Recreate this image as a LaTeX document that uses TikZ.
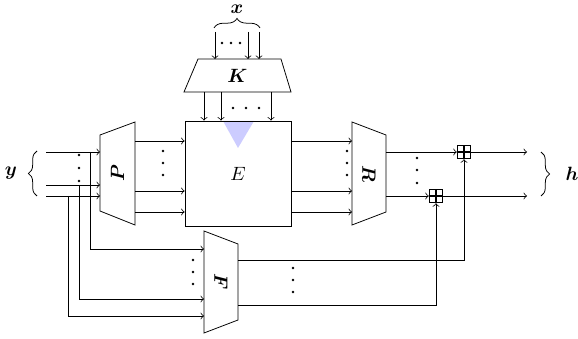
\documentclass[tikz,border=0pt]{standalone}
\usepackage{amsmath,bm}
\usetikzlibrary{decorations.pathreplacing}
\begin{document}
\begin{tikzpicture}[x=0.52pt,y=-0.52pt,
  wire/.style={->},
  blk/.style={draw},
  dotmark/.style={fill, circle, inner sep=0pt, minimum size=1.5pt},
  bracedec/.style={decorate, decoration={brace, amplitude=#1}},
  adder/.style={draw, line width=0.7pt, minimum size=6.8pt, inner sep=0pt,
    path picture={\draw[line width=0.7pt]
      (path picture bounding box.north) -- (path picture bounding box.south)
      (path picture bounding box.west) -- (path picture bounding box.east);}}]
\useasboundingbox (0,0) rectangle (578,339);

% ---------- block corners ----------
\coordinate (P-lt) at (100,135); \coordinate (P-lb) at (100,211);
\coordinate (P-rt) at (135,122); \coordinate (P-rb) at (135,225);
\coordinate (R-lt) at (352,122); \coordinate (R-lb) at (352,225);
\coordinate (R-rt) at (386,135); \coordinate (R-rb) at (386,212);
\coordinate (F-lt) at (204,231); \coordinate (F-lb) at (204,333);
\coordinate (F-rt) at (238,244); \coordinate (F-rb) at (238,320);
\coordinate (K-tl) at (198,59);  \coordinate (K-tr) at (281,59);
\coordinate (K-bl) at (184,92);  \coordinate (K-br) at (291,92);

% ---------- central block E ----------
\fill[blue!20] (223,121) -- (254,121) -- (238,148) -- cycle;
\node[blk, minimum width=55.1pt, minimum height=54.6pt, inner sep=0pt] (E) at (238,173.5) {$E$};

% ---------- trapezoid blocks ----------
\draw (P-lt) -- (P-rt) -- (P-rb) -- (P-lb) -- cycle;
\draw (R-lt) -- (R-rt) -- (R-rb) -- (R-lb) -- cycle;
\draw (F-lt) -- (F-rt) -- (F-rb) -- (F-lb) -- cycle;
\draw (K-tl) -- (K-tr) -- (K-br) -- (K-bl) -- cycle;
\node[rotate=90]  (Plbl) at (117.5,173.5) {$\bm{P}$};
\node[rotate=-90] (Rlbl) at (369,173.5) {$\bm{R}$};
\node[rotate=-90] (Flbl) at (221,282) {$\bm{F}$};
\node (Klbl) at (237.5,76) {$\bm{K}$};

% ---------- adders ----------
\node[adder] (plus1) at (464,152) {};
\node[adder] (plus2) at (436,196) {};

% ---------- input y ----------
\coordinate (y1) at (46,152);
\coordinate (y2) at (46,185);
\coordinate (y3) at (46,196);
\draw[wire] (y1) -- (y1 -| P-lt);
\draw[wire] (y2) -- (y2 -| P-lt);
\draw[wire] (y3) -- (y3 -| P-lt);
\coordinate (d1) at (90,152);
\coordinate (d2) at (79,185);
\coordinate (d3) at (68,196);
\coordinate (f1) at (204,249);
\coordinate (f2) at (204,299);
\coordinate (f3) at (204,316);
\draw[wire] (d1) |- (f1);
\draw[wire] (d2) |- (f2);
\draw[wire] (d3) |- (f3);
\draw[bracedec=4.5pt] (37,196) -- (37,151);
\node (ylbl) at (11,173.5) {$\bm{y}$};

% ---------- input x ----------
\coordinate (x1) at (215,32);
\coordinate (x2) at (248,32);
\coordinate (x3) at (259,32);
\draw[wire] (x1) -- (x1 |- K-tl);
\draw[wire] (x2) -- (x2 |- K-tl);
\draw[wire] (x3) -- (x3 |- K-tl);
\draw[bracedec=5pt] (214,28) -- (260,28);
\node[inner sep=1pt] (xlbl) at (237,9.5) {$\bm{x}$};

% ---------- K to E ----------
\coordinate (k1) at (204,92);
\coordinate (k2) at (221,92);
\coordinate (k3) at (271,92);
\draw[wire] (k1) -- (k1 |- E.north);
\draw[wire] (k2) -- (k2 |- E.north);
\draw[wire] (k3) -- (k3 |- E.north);

% ---------- P to E ----------
\coordinate (p1) at (135,141);
\coordinate (p2) at (135,191);
\coordinate (p3) at (135,212);
\draw[wire] (p1) -- (p1 -| E.west);
\draw[wire] (p2) -- (p2 -| E.west);
\draw[wire] (p3) -- (p3 -| E.west);

% ---------- E to R ----------
\coordinate (e1) at (291,141);
\coordinate (e2) at (291,191);
\coordinate (e3) at (291,212);
\draw[wire] (e1) -- (e1 -| R-lt);
\draw[wire] (e2) -- (e2 -| R-lt);
\draw[wire] (e3) -- (e3 -| R-lt);

% ---------- R to adders to h ----------
\coordinate (r1) at (386,152);
\coordinate (r2) at (386,196);
\draw[wire] (r1) -- (plus1.west);
\draw[wire] (r2) -- (plus2.west);
\coordinate (h1) at (527,152);
\coordinate (h2) at (527,196);
\draw[wire] (plus1.east) -- (h1);
\draw[wire] (plus2.east) -- (h2);
\draw[bracedec=4.5pt] (541,152) -- (541,196);
\node (hlbl) at (572,174) {$\bm{h}$};

% ---------- F to adders ----------
\coordinate (o1) at (238,260);
\coordinate (o2) at (238,305);
\draw[wire] (o1) -| (plus1.south);
\draw[wire] (o2) -| (plus2.south);

% ---------- ellipsis dots ----------
\foreach \px/\py in {79/155, 79/168, 79/181,
                     163/151, 163/163, 163/175,
                     347/151, 347/163, 347/175,
                     417/158, 417/170, 417/183,
                     222/43, 231/43, 240/43,
                     233/108, 246/108, 259/108,
                     193/260, 193/272, 193/284,
                     293/268, 293/280, 293/292}
  \node[dotmark] at (\px,\py) {};
\end{tikzpicture}
\end{document}
